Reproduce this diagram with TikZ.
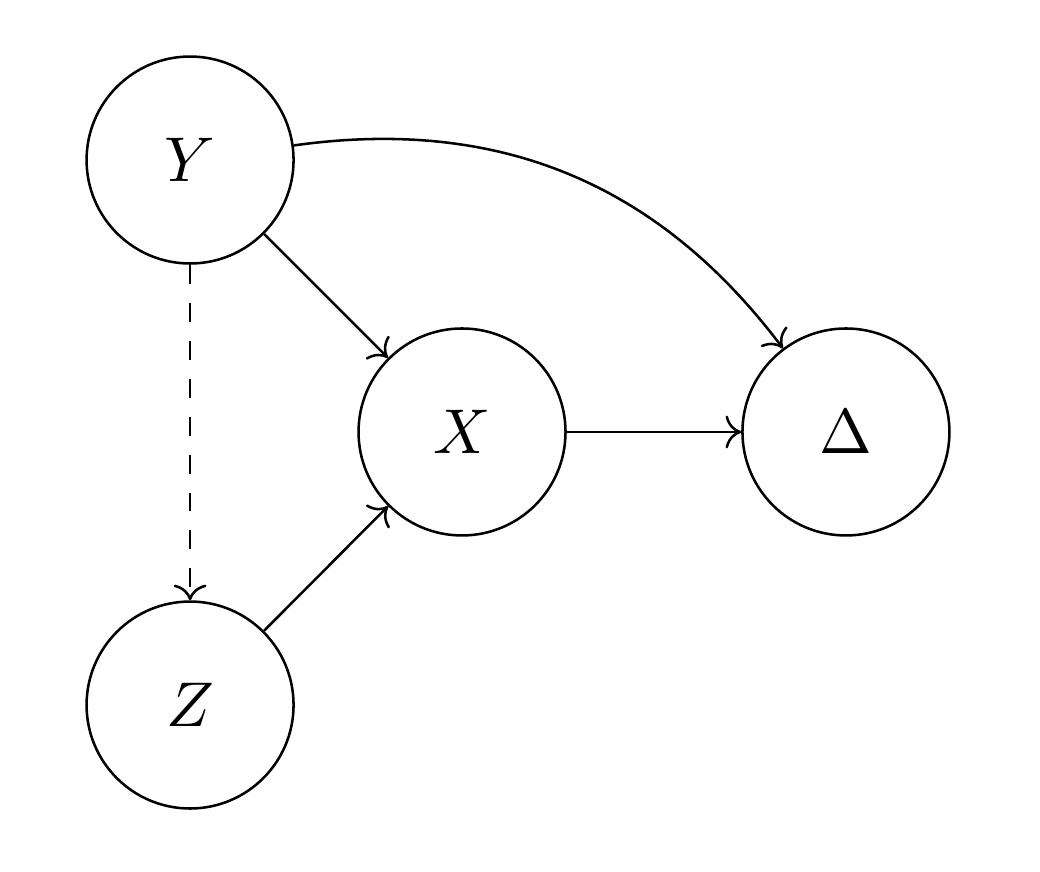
\documentclass[tikz,border=0pt]{standalone}
\usepackage{amsmath}
\usetikzlibrary{arrows.meta}

\begin{document}
\begin{tikzpicture}[
    var/.style={draw, circle, minimum size=1.15cm, inner sep=0pt},
    edge/.style={->}
]

% ---------------------------------------------------------------
%  Causal graph:  Y -> X -> Delta,  Z -> X,  Y -> Delta,
%  Y --> Z drawn dashed
% ---------------------------------------------------------------

\useasboundingbox (-1.056, 0.889) rectangle (4.722, -3.955);

% ---- Variables ----
\node[var] (Y) at (0.000,  0.000) {$Y$};
\node[var] (X) at (1.511, -1.511) {$X$};
\node[var] (D) at (3.644, -1.511) {$\Delta$};
\node[var] (Z) at (0.000, -3.028) {$Z$};

% ---- Edges ----
\draw[edge] (Y) -- (X);
\draw[edge] (Z) -- (X);
\draw[edge] (X) -- (D);
\draw[edge] (Y) to[out=8, in=127] (D);
\draw[edge, dashed] (Y) -- (Z);

\end{tikzpicture}
\end{document}
